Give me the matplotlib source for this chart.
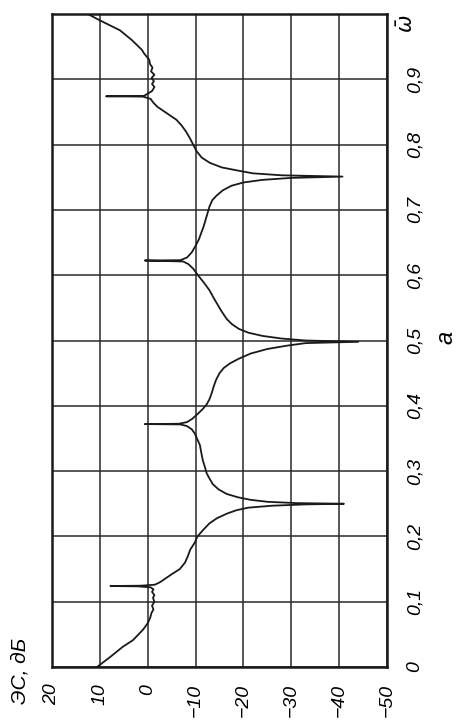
import matplotlib
matplotlib.use('Agg')
import matplotlib.pyplot as plt
from matplotlib.transforms import blended_transform_factory

# 字体：斜体，缺字时退回 DejaVu Sans
plt.rcParams['font.family'] = ['Liberation Sans', 'DejaVu Sans']
plt.rcParams['font.style'] = 'italic'
plt.rcParams['mathtext.fontset'] = 'dejavusans'

# 数据：归一化频率 ω̄ 与 ЭС (дБ)
omega = [0.000, 0.015, 0.031, 0.041, 0.057, 0.067, 0.075, 0.083, 0.088, 0.094,
         0.100, 0.106, 0.110, 0.115, 0.119, 0.122, 0.1235, 0.124, 0.1245, 0.126,
         0.130, 0.135, 0.142, 0.150, 0.160, 0.170, 0.180, 0.190, 0.200, 0.210,
         0.220, 0.228, 0.235, 0.240, 0.244, 0.247, 0.249, 0.250, 0.251, 0.253,
         0.256, 0.260, 0.265, 0.272, 0.280, 0.290, 0.297, 0.305, 0.317, 0.328,
         0.340, 0.350, 0.358, 0.364, 0.369, 0.3715, 0.372, 0.3725, 0.375, 0.380,
         0.388, 0.395, 0.402, 0.410, 0.420, 0.430, 0.440, 0.450, 0.458, 0.465,
         0.472, 0.480, 0.487, 0.492, 0.496, 0.498, 0.500, 0.503, 0.507, 0.512,
         0.518, 0.525, 0.533, 0.545, 0.555, 0.565, 0.577, 0.588, 0.600, 0.610,
         0.617, 0.621, 0.6225, 0.623, 0.627, 0.635, 0.645, 0.655, 0.665, 0.675,
         0.685, 0.695, 0.705, 0.715, 0.722, 0.730, 0.737, 0.742, 0.746, 0.749,
         0.751, 0.753, 0.756, 0.760, 0.765, 0.772, 0.780, 0.790, 0.800, 0.810,
         0.820, 0.830, 0.838, 0.845, 0.852, 0.858, 0.864, 0.870, 0.8735, 0.874,
         0.8745, 0.878, 0.882, 0.888, 0.893, 0.897, 0.902, 0.907, 0.912, 0.918,
         0.923, 0.930, 0.940, 0.945, 0.960, 0.975, 0.991, 1.000]
es_db = [10.6, 7.9, 5.2, 3.1, 1.0, 0.0, -0.5, -0.8, -1.2, -0.9,
         -1.4, -1.1, -1.4, -0.9, -1.2, -0.6, 2.0, 7.8, 1.5, -1.5,
         -2.6, -3.6, -5.0, -6.7, -7.8, -8.4, -8.9, -9.8, -10.4, -11.6,
         -12.9, -14.5, -16.6, -18.5, -21.0, -26.0, -33.0, -41.0, -31.0, -25.0,
         -21.5, -18.8, -16.5, -14.8, -13.6, -12.8, -12.3, -12.0, -11.5, -11.2,
         -10.9, -10.3, -9.8, -9.2, -8.2, -6.8, 0.6, -6.5, -8.2, -9.3,
         -10.5, -11.5, -12.3, -12.9, -13.4, -13.8, -14.3, -15.0, -15.9, -17.2,
         -19.0, -21.5, -25.0, -29.0, -33.0, -44.0, -33.0, -28.0, -24.0, -21.0,
         -19.0, -17.6, -16.5, -15.4, -14.6, -13.8, -12.9, -11.8, -10.5, -9.5,
         -8.5, -7.4, 0.6, -6.8, -8.2, -9.2, -10.0, -10.7, -11.2, -11.7,
         -12.1, -12.5, -12.9, -13.5, -14.4, -15.7, -17.5, -20.0, -24.0, -30.0,
         -40.7, -28.0, -22.0, -19.0, -15.5, -13.0, -11.3, -10.2, -9.5, -8.8,
         -8.0, -7.0, -6.0, -4.6, -3.2, -2.0, -1.2, -0.6, 1.0, 8.7,
         0.8, 0.0, -0.9, -1.4, -0.9, -1.3, -0.8, -1.4, -0.7, -1.0,
         -0.5, -0.3, 0.8, 1.2, 3.3, 5.8, 10.2, 12.5]

# 坐标刻度
db_ticks = [20, 10, 0, -10, -20, -30, -40, -50]
db_labels = ['20', '10', '0', '−10', '−20', '−30', '−40', '−50']
omega_ticks = [0.0, 0.1, 0.2, 0.3, 0.4, 0.5, 0.6, 0.7, 0.8, 0.9]
omega_labels = ['0', '0,1', '0,2', '0,3', '0,4', '0,5', '0,6', '0,7', '0,8', '0,9']

fig = plt.figure(figsize=(4.6, 7.27), dpi=100)
# 图是旋转了 90° 的：横轴为 дБ（左大右小），纵轴为 ω̄
ax = fig.add_axes([52 / 460, 60 / 727, 335 / 460, 653 / 727])

ax.plot(es_db, omega, color='#1a1a1a', lw=1.3, zorder=3)

ax.set_xlim(20, -50)
ax.set_ylim(0, 1)
ax.set_xticks(db_ticks)
ax.set_xticklabels(db_labels, rotation=90, fontsize=14)
ax.set_yticks(omega_ticks)
ax.set_yticklabels(omega_labels, rotation=90, fontsize=14, va='center')
ax.yaxis.tick_right()
ax.tick_params(axis='x', length=0, pad=12)
ax.tick_params(axis='y', length=0, pad=14)

ax.grid(True, color='#2a2a2a', lw=1.1)
for s in ax.spines.values():
    s.set_linewidth(1.8)
    s.set_color('#1a1a1a')

# 轴标题
fig.text(20 / 460, 1 - 671 / 727, 'ЭС, дБ', rotation=90, fontsize=15,
         ha='center', va='center')
trans = blended_transform_factory(ax.transAxes, ax.transData)
ax.text(1.06, 0.985, r'$\bar{\omega}$', transform=trans, rotation=90,
        fontsize=15, ha='center', va='center')
ax.text(1.175, 0.505, 'a', transform=trans, rotation=90, fontsize=17,
        ha='center', va='center')

fig.savefig('out.png', dpi=100)
